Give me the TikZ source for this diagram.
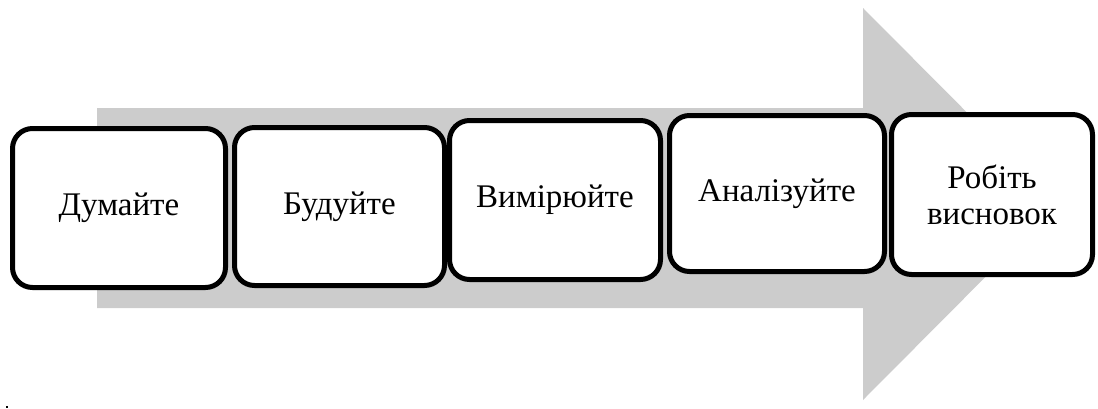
\documentclass[tikz,border=0pt]{standalone}
\usepackage{fontspec}
\newfontfamily\stepfont{Liberation Serif}
\tikzset{stepbox/.style={font=\stepfont\fontsize{33}{36}\selectfont,align=center,draw,line width=5pt,fill=white,rounded corners=20pt,inner sep=0pt}}

\begin{document}
\begin{tikzpicture}[x=1pt,y=-1pt]
  \useasboundingbox (0,0) rectangle (1098,408);
  % arrow
  \fill[black!20] (97,108) -- (863,108) -- (863,8) -- (1058,204) -- (863,400) -- (863,308) -- (97,308) -- cycle;
  % steps
  \node[stepbox,minimum width=213pt,minimum height=159pt] (think) at (119,208) {Думайте};
  \node[stepbox,minimum width=210pt,minimum height=158pt] (build) at (339.5,206.5) {Будуйте};
  \node[stepbox,minimum width=211pt,minimum height=159pt] (measure) at (555,200) {Вимірюйте};
  \node[stepbox,minimum width=215pt,minimum height=156pt] (analyse) at (777,193.5) {Аналізуйте};
  \node[stepbox,minimum width=201pt,minimum height=160pt] (conclude) at (992,194.5) {Робіть\\висновок};
  % stray mark
  \fill (5.5,405.5) rectangle (7.5,407.5);
\end{tikzpicture}
\end{document}
